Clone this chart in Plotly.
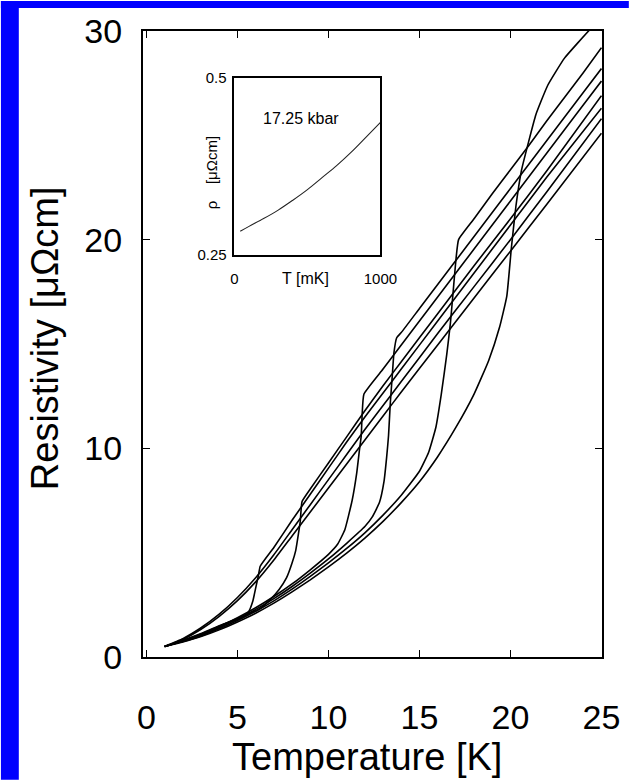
import plotly.graph_objects as go

# Resistivity curves for eight pressures (T in K, rho in micro-ohm cm)
t_p1 = [1.0, 2, 3, 4, 5, 6, 7, 8, 9, 10, 11, 12, 13, 14, 15, 16, 17, 18, 18.8, 19.4, 19.8, 20.05, 20.3, 20.6, 21.0, 21.4, 22.05, 22.97, 24.4, 25.0]
r_p1 = [0.50, 0.72, 0.98, 1.30, 1.68, 2.10, 2.58, 3.12, 3.70, 4.32, 4.98, 5.70, 6.50, 7.40, 8.40, 9.60, 11.00, 12.60, 14.20, 15.80, 17.30, 19.60, 21.60, 23.30, 24.70, 26.00, 27.40, 28.70, 30.10, 30.60]

t_p2 = [1.0, 2, 3, 4, 5, 6, 7, 8, 9, 10, 11, 12, 13, 14, 15, 15.5, 15.9, 16.2, 16.5, 16.7, 16.85, 17.0, 17.15, 18, 19, 20, 21, 22, 23, 24, 25]
r_p2 = [0.50, 0.74, 1.01, 1.35, 1.75, 2.19, 2.69, 3.25, 3.86, 4.51, 5.20, 5.95, 6.80, 7.75, 8.90, 9.80, 11.00, 12.60, 14.50, 16.00, 17.50, 19.00, 20.00, 21.00, 22.20, 23.35, 24.50, 25.70, 26.85, 28.00, 29.20]

t_p3 = [1.0, 2, 3, 4, 5, 6, 7, 8, 9, 10, 11, 12, 12.4, 12.8, 13.05, 13.2, 13.3, 13.4, 13.5, 13.6, 13.75, 14, 15, 16, 17, 18, 19, 20, 21, 22, 23, 24, 25]
r_p3 = [0.50, 0.76, 1.04, 1.40, 1.82, 2.28, 2.80, 3.38, 4.02, 4.70, 5.45, 6.25, 6.70, 7.40, 8.40, 9.60, 10.60, 12.20, 13.40, 14.60, 15.30, 15.55, 16.70, 17.85, 19.00, 20.15, 21.30, 22.45, 23.60, 24.75, 25.90, 27.05, 28.20]

t_p4 = [1.0, 2, 3, 4, 5, 6, 7, 8, 9, 10, 10.5, 10.9, 11.3, 11.55, 11.7, 11.8, 11.85, 11.95, 13, 14, 15, 16, 17, 18, 19, 20, 21, 22, 23, 24, 25]
r_p4 = [0.50, 0.77, 1.07, 1.45, 1.88, 2.36, 2.90, 3.50, 4.18, 4.92, 5.40, 6.10, 7.50, 8.80, 9.90, 10.60, 11.60, 12.60, 13.80, 14.95, 16.10, 17.25, 18.40, 19.55, 20.70, 21.85, 23.00, 24.15, 25.30, 26.45, 27.60]

t_p5 = [1.0, 2, 3, 4, 5, 5.3, 6.2, 6.8, 7.3, 7.7, 8.0, 8.2, 8.35, 8.45, 8.55, 9, 10, 11, 12, 13, 14, 16, 18, 20, 22, 25]
r_p5 = [0.50, 0.78, 1.10, 1.48, 1.85, 1.95, 2.30, 2.75, 3.25, 3.80, 4.50, 5.10, 5.90, 6.50, 7.45, 8.05, 9.30, 10.55, 11.80, 13.00, 14.15, 16.45, 18.75, 21.00, 23.30, 26.90]

t_p6 = [1.0, 2, 3, 4, 5, 5.3, 5.6, 5.85, 6.0, 6.15, 6.25, 7, 8, 9, 10, 11, 12, 13, 14, 16, 18, 20, 22, 25]
r_p6 = [0.50, 0.80, 1.13, 1.50, 1.80, 1.90, 2.15, 2.70, 3.30, 3.90, 4.35, 5.25, 6.55, 7.80, 9.05, 10.30, 11.50, 12.65, 13.80, 16.10, 18.40, 20.70, 23.00, 26.30]

t_p7 = [1.0, 2, 3, 4, 5, 6, 7, 8, 9, 10, 11, 12, 13, 14, 16, 18, 20, 22, 25]
r_p7 = [0.52, 0.88, 1.40, 2.05, 2.85, 3.80, 4.90, 6.10, 7.30, 8.50, 9.70, 10.90, 12.05, 13.20, 15.50, 17.75, 20.00, 22.30, 25.80]

t_p8 = [1.0, 2, 3, 4, 5, 6, 7, 8, 9, 10, 11, 12, 13, 14, 16, 18, 20, 22, 25]
r_p8 = [0.50, 0.84, 1.33, 1.95, 2.70, 3.60, 4.65, 5.80, 6.95, 8.10, 9.25, 10.40, 11.55, 12.70, 14.95, 17.20, 19.45, 21.70, 25.10]

# Low-temperature inset at 17.25 kbar (T in mK)
t_inset = [40, 100, 200, 300, 400, 500, 600, 700, 800, 900, 1000]
r_inset = [0.283, 0.290, 0.301, 0.313, 0.327, 0.342, 0.359, 0.376, 0.395, 0.416, 0.437]

x_ticks = [0, 5, 10, 15, 20, 25]
y_ticks = [0, 10, 20, 30]

FONT = "Liberation Sans, Arial, Helvetica, sans-serif"
W, H = 632, 780
ML, MR, MT, MB = 143, 27, 30, 123
PW, PH = W - ML - MR, H - MT - MB


def px_x(px):
    return (px - ML) / PW


def px_y(py):
    return (H - MB - py) / PH


fig = go.Figure()

curves = [(t_p1, r_p1), (t_p2, r_p2), (t_p3, r_p3), (t_p4, r_p4),
          (t_p5, r_p5), (t_p6, r_p6), (t_p7, r_p7), (t_p8, r_p8)]
for t, r in curves:
    fig.add_trace(go.Scatter(x=t, y=r, mode="lines",
                             line=dict(color="black", width=1.6, shape="spline", smoothing=0.4),
                             showlegend=False, hoverinfo="skip"))

fig.add_trace(go.Scatter(x=t_inset, y=r_inset, mode="lines", xaxis="x2", yaxis="y2",
                         line=dict(color="#222", width=1.1, shape="spline"),
                         showlegend=False, hoverinfo="skip"))

axis_common = dict(showgrid=False, zeroline=False, showline=True, linecolor="black",
                   mirror="ticks", ticks="inside", tickcolor="black")

fig.update_layout(
    width=W, height=H,
    margin=dict(l=ML, r=MR, t=MT, b=MB),
    paper_bgcolor="white", plot_bgcolor="white",
    font=dict(family=FONT, color="black"),
    xaxis=dict(range=[-0.19, 25.03], tickvals=x_ticks, linewidth=2, ticklen=7, tickwidth=1,
               tickfont=dict(size=34), ticklabelstandoff=29, **axis_common),
    yaxis=dict(range=[0, 30], tickvals=y_ticks, linewidth=2, ticklen=7, tickwidth=1,
               tickfont=dict(size=34), ticklabelstandoff=12, **axis_common),
    xaxis2=dict(domain=[px_x(235), px_x(382)], anchor="y2", range=[0, 1000],
                tickvals=[0, 1000], ticktext=["0", "1000"], showgrid=False, zeroline=False,
                showline=True, linecolor="black", linewidth=1.5, mirror=True, ticks="",
                tickfont=dict(size=15), ticklabelstandoff=10),
    yaxis2=dict(domain=[px_y(254), px_y(77)], anchor="x2", range=[0.25, 0.5],
                tickvals=[0.25, 0.5], ticktext=["0.25", "0.5"], showgrid=False, zeroline=False,
                showline=True, linecolor="black", linewidth=1.5, mirror=True, ticks="",
                tickfont=dict(size=15), ticklabelstandoff=3),
)

annotations = [
    dict(text="Temperature [K]", x=px_x(368), y=px_y(757), xref="paper", yref="paper",
         showarrow=False, font=dict(size=38), xanchor="center", yanchor="middle"),
    dict(text="Resistivity [μΩcm]", x=px_x(44), y=px_y(338), xref="paper", yref="paper",
         showarrow=False, font=dict(size=38), textangle=-90, xanchor="center", yanchor="middle"),
    dict(text="17.25 kbar", x=455, y=0.442, xref="x2", yref="y2", showarrow=False,
         font=dict(size=16), xanchor="center", yanchor="middle"),
    dict(text="T [mK]", x=px_x(307), y=px_y(278), xref="paper", yref="paper", showarrow=False,
         font=dict(size=16), xanchor="center", yanchor="middle"),
    dict(text="ρ    [μΩcm]", x=px_x(212), y=px_y(172), xref="paper", yref="paper", showarrow=False,
         font=dict(size=15), textangle=-90, xanchor="center", yanchor="middle"),
]
fig.update_layout(annotations=annotations)

# Blue frame strips on the left and top edges of the page
fig.add_shape(type="rect", xref="paper", yref="paper", x0=px_x(0), x1=px_x(18),
              y0=px_y(H), y1=px_y(0), fillcolor="#0000ff", line=dict(width=0), layer="above")
fig.add_shape(type="rect", xref="paper", yref="paper", x0=px_x(0), x1=px_x(W),
              y0=px_y(7), y1=px_y(0), fillcolor="#0000ff", line=dict(width=0), layer="above")

fig.write_html("out.html")
